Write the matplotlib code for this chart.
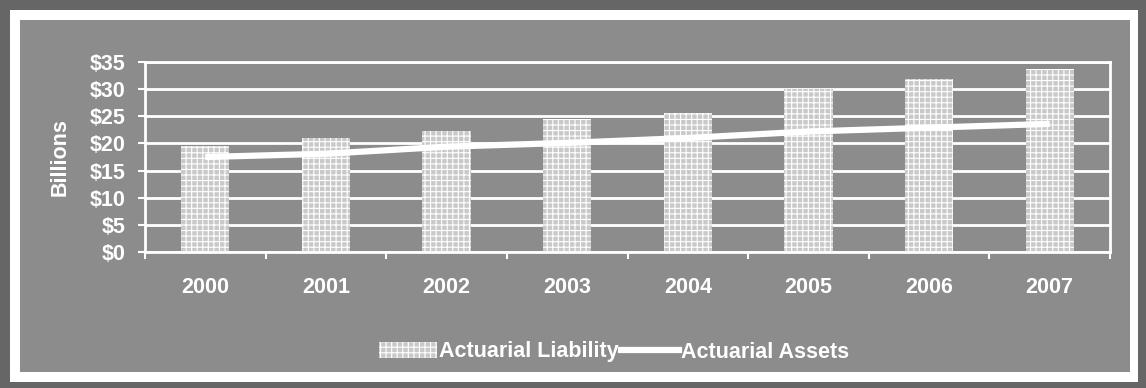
import matplotlib
matplotlib.use("Agg")
import matplotlib.pyplot as plt
from matplotlib.patches import Rectangle, Patch
from matplotlib.lines import Line2D

# values (billions of dollars)
years = ["2000", "2001", "2002", "2003", "2004", "2005", "2006", "2007"]
liability = [19.5, 21.0, 22.3, 24.5, 25.6, 30.0, 31.9, 33.7]
assets = [17.5, 18.1, 19.4, 20.1, 21.0, 22.2, 22.9, 23.6]
y_ticks = [0, 5, 10, 15, 20, 25, 30, 35]
y_labels = ["$0", "$5", "$10", "$15", "$20", "$25", "$30", "$35"]

BG = "#8c8c8c"
BORDER = "#666666"
BAR = "#c9c9c9"
FS = 15.5

plt.rcParams.update({
    "font.family": "Liberation Sans",
    "font.weight": "bold",
    "font.size": FS,
    "hatch.color": "white",
    "hatch.linewidth": 0.8,
})

fig = plt.figure(figsize=(11.46, 3.88), dpi=100, facecolor=BORDER)

# scanned frame: dark edge, white ring, gray panel
W, H = 1146, 388
fig.patches.append(Rectangle((10 / W, 1 - 382 / H), 1128 / W, 372 / H,
                             transform=fig.transFigure, facecolor="white",
                             edgecolor="none", zorder=-10))
fig.patches.append(Rectangle((20 / W, 1 - 372 / H), 1110 / W, 352 / H,
                             transform=fig.transFigure, facecolor=BG,
                             edgecolor="none", zorder=-9))

ax = fig.add_axes([145 / W, 1 - 252 / H, 965 / W, 190 / H])
ax.set_facecolor(BG)
ax.set_axisbelow(True)

x = list(range(len(years)))
ax.bar(x, liability, width=0.4, color=BAR, hatch="+++", edgecolor="white",
       linewidth=0, zorder=2)
ax.plot(x, assets, color="white", linewidth=4.5, solid_capstyle="butt", zorder=3)

ax.set_xlim(-0.5, len(years) - 0.5)
ax.set_ylim(0, 35)
ax.set_yticks(y_ticks)
ax.set_yticklabels(y_labels, color="white", fontsize=FS, fontweight="bold")
ax.tick_params(axis="y", color="white", width=1.5, length=5, pad=9)

ax.set_xticks(x)
ax.set_xticklabels(years, color="white", fontsize=FS, fontweight="bold")
ax.set_xticks([i - 0.5 for i in range(len(years) + 1)], minor=True)
ax.tick_params(axis="x", which="major", length=0, pad=18)
ax.tick_params(axis="x", which="minor", color="white", width=1.5, length=5)

ax.grid(axis="y", color="white", linewidth=2)
for side in ["left", "bottom", "right", "top"]:
    ax.spines[side].set_color("white")
    ax.spines[side].set_linewidth(2)

ax.set_ylabel("Billions", color="white", fontsize=FS, fontweight="bold")
ax.yaxis.set_label_coords(-0.077, 0.5)

handles = [Patch(facecolor=BAR, hatch="+++", edgecolor="white", linewidth=0),
           Line2D([0], [0], color="white", linewidth=4.5)]
fig.legend(handles, ["Actuarial Liability", "Actuarial Assets"],
           loc="center", bbox_to_anchor=(614 / W, 1 - 352 / H), ncol=2,
           frameon=False, handlelength=2.7, handletextpad=0.1,
           columnspacing=0.1, labelcolor="white",
           prop={"family": "Liberation Sans", "weight": "bold", "size": FS})

fig.savefig("out.png", dpi=100, facecolor=fig.get_facecolor())
